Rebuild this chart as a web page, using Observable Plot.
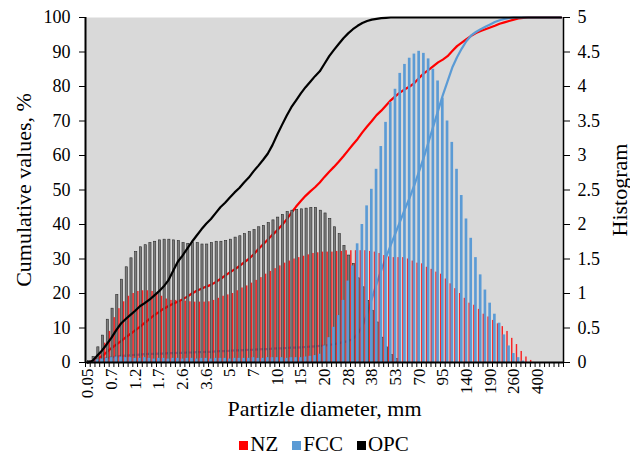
<!DOCTYPE html>
<html><head><meta charset="utf-8">
<script src="https://cdn.jsdelivr.net/npm/d3@7"></script>
<script src="https://cdn.jsdelivr.net/npm/@observablehq/plot@0.6"></script>
<style>
body{margin:0;background:#fff;font-family:"Liberation Serif","Times New Roman",serif;}
#legend{display:flex;justify-content:center;align-items:center;height:28px;font-size:21px;color:#000;padding-left:18px;line-height:28px;}
#legend .item{display:flex;align-items:center;margin:0 7px;}
#legend .sw{display:inline-block;width:9px;height:9px;margin-right:2px;margin-top:3px;}
</style></head><body>
<div id="chart"></div>
<div id="legend"></div>
<script>
// x-axis category labels (every 5th size class)
const tickLabels = ["0.05","0.7","1.2","1.7","2.6","3.6","5","7","10","15","20","28","38","53","70","95","140","190","260","400"];
const tickIndex = [0,5,10,15,20,25,30,35,40,45,50,55,60,65,70,75,80,85,90,95];

// histogram values (right axis, 0–5), one per size class
const nzHist = [0,0.02,0.06,0.14,0.28,0.45,0.65,0.78,0.88,0.96,
  1.0,1.03,1.04,1.04,1.03,1.0,0.96,0.92,0.9,0.9,
  0.9,0.89,0.88,0.875,0.875,0.875,0.88,0.9,0.93,0.96,
  0.98,1.0,1.04,1.08,1.11,1.15,1.19,1.23,1.28,1.32,
  1.36,1.4,1.44,1.47,1.5,1.52,1.54,1.56,1.58,1.59,
  1.6,1.6,1.6,1.61,1.61,1.62,1.62,1.62,1.62,1.62,
  1.61,1.6,1.58,1.55,1.53,1.52,1.52,1.52,1.5,1.47,
  1.44,1.43,1.38,1.35,1.31,1.28,1.21,1.14,1.07,1.0,
  0.93,0.86,0.83,0.77,0.7,0.66,0.61,0.56,0.52,0.45,
  0.35,0.26,0.16,0.08,0.03,0,0,0,0,0,0];
const fccHist = [0,0.02,0.04,0.05,0.06,0.07,0.08,0.08,0.07,0.07,
  0.06,0.06,0.07,0.06,0.05,0.06,0.06,0.05,0.06,0.06,
  0.05,0.06,0.06,0.05,0.06,0.06,0.05,0.06,0.06,0.06,
  0.05,0.06,0.06,0.06,0.06,0.07,0.06,0.06,0.07,0.07,
  0.07,0.07,0.06,0.07,0.07,0.07,0.08,0.09,0.1,0.12,
  0.24,0.36,0.51,0.68,0.9,1.18,1.4,1.72,2.0,2.27,
  2.51,2.8,3.13,3.48,3.77,3.96,4.19,4.32,4.41,4.47,
  4.51,4.48,4.4,4.25,4.08,3.83,3.5,3.19,2.8,2.42,
  2.08,1.8,1.52,1.27,1.05,0.86,0.7,0.57,0.4,0.24,
  0.13,0.07,0.02,0,0,0,0,0,0,0,0];
const opcHist = [0.02,0.08,0.22,0.39,0.62,0.78,0.98,1.2,1.38,1.51,
  1.6,1.67,1.7,1.73,1.75,1.77,1.78,1.78,1.77,1.76,
  1.73,1.72,1.73,1.73,1.71,1.71,1.73,1.75,1.75,1.76,
  1.78,1.81,1.83,1.86,1.89,1.92,1.96,1.98,2.02,2.06,
  2.1,2.14,2.18,2.2,2.21,2.22,2.23,2.24,2.24,2.2,
  2.16,2.08,1.96,1.86,1.69,1.55,1.43,1.22,1.09,0.89,
  0.75,0.58,0.36,0.22,0.11,0.05,0,0,0,0,
  0,0,0,0,0,0,0,0,0,0,
  0,0,0,0,0,0,0,0,0,0,
  0,0,0,0,0,0,0,0,0,0,0];

// cumulative values (left axis, %)
const nzCum = [0,0.3,1,1.8,3,4.2,5.2,6.2,7.3,8.3,
  9.3,10.3,11.5,12.6,13.7,14.6,15.6,16.3,17,17.6,
  18.3,19.1,20,20.8,21.4,22,22.5,23.3,24.2,25.2,
  26.1,27,27.9,29,30,31.3,32.8,34.2,35.6,37,
  38.3,39.8,41.5,43.4,45.2,46.8,48.3,49.6,50.8,52.2,
  53.8,55.3,56.7,58.2,59.8,61.5,63.2,64.8,66.7,68.4,
  70,71.7,73,74.5,76,77.2,78.3,79.2,80,81,
  82.5,83.8,84.8,85.9,87,87.8,88.8,90.3,91.7,92.7,
  93.7,94.7,95.5,96.1,96.6,97.1,97.6,98.2,98.6,99,
  99.4,99.7,99.9,100,100,100,100,100,100,100,100];
const fccCum = [0,0.3,0.7,1,1.3,1.5,1.7,1.9,2,2.1,
  2.2,2.3,2.4,2.5,2.5,2.6,2.6,2.7,2.7,2.8,
  2.8,2.9,2.9,3,3,3.1,3.1,3.2,3.3,3.3,
  3.4,3.5,3.5,3.6,3.7,3.7,3.8,3.9,3.9,4,
  4.1,4.1,4.2,4.3,4.3,4.4,4.5,4.6,4.7,4.8,
  4.9,5.1,5.3,5.6,5.9,6.2,6.8,8.3,10.5,14,
  18.5,22.8,26.8,30.5,34,37.5,41,44.5,47.8,51.5,
  55.5,59.5,64,68.5,73,77.5,81.5,85.5,88.5,91,
  93.2,94.8,95.8,96.6,97.3,98,98.7,99.2,99.6,99.8,
  100,100,100,100,100,100,100,100,100,100,100];
const opcCum = [0,0.5,2,3.5,5.3,7.2,9.4,11.3,12.6,13.8,
  15,16.3,17.2,18.2,19.4,20.6,22,23.8,26.5,29.2,
  31,33,35,36.8,38.6,40.2,41.6,43.3,45,46.3,
  47.8,49.3,50.6,52.2,53.6,55.4,57,58.7,60.5,63,
  66,68.8,71.5,74,76,78,79.8,81.4,83,84.4,
  86.6,88.8,90.6,92.3,94,95.4,96.6,97.6,98.4,99,
  99.4,99.6,99.8,99.9,100,100,100,100,100,100,
  100,100,100,100,100,100,100,100,100,100,
  100,100,100,100,100,100,100,100,100,100,
  100,100,100,100,100,100,100,100,100,100,100];

const seriesNames = ["NZ","FCC","OPC"];
const colors = {NZ:"#ff0000", FCC:"#5b9bd5", OPC:"#000000"};
const HIST_TO_PCT = 100 / 5; // right axis 0–5 mapped onto left axis 0–100

const N = nzHist.length;
const rows = d3.range(N).map(i => ({i, NZ: nzHist[i], FCC: fccHist[i], OPC: opcHist[i],
  NZc: nzCum[i], FCCc: fccCum[i], OPCc: opcCum[i]}));

// bar layout within a size class (in category units)
const layout = {NZ:{off:-0.33,w:0.3}, FCC:{off:0,w:0.56}, OPC:{off:0.22,w:0.46}};
function bars(name, extra) {
  const {off, w} = layout[name];
  return Plot.rectY(rows, {
    x1: d => d.i + off - w/2, x2: d => d.i + off + w/2,
    y1: 0, y2: d => d[name] * HIST_TO_PCT,
    fill: name === "OPC" ? "#7d7d7d" : colors[name],
    ...extra
  });
}
const labelOf = Object.fromEntries(tickIndex.map((t, k) => [t, tickLabels[k]]));

const chart = Plot.plot({
  width: 630, height: 430,
  marginLeft: 85, marginRight: 67, marginTop: 17, marginBottom: 68,
  x: {domain: [-0.5, N - 0.5], axis: null},
  y: {domain: [0, 100], axis: null},
  style: {fontFamily: '"Liberation Serif","Times New Roman",serif', background: "#fff", color: "#000", overflow: "visible"},
  marks: [
    Plot.frame({fill: "#d9d9d9", stroke: null}),
    Plot.line(rows, {x: "i", y: "NZc", stroke: colors.NZ, strokeWidth: 2.2}),
    Plot.line(rows, {x: "i", y: "FCCc", stroke: colors.FCC, strokeWidth: 2.2}),
    bars("OPC", {stroke: "#2a2a2a", strokeWidth: 0.6}),
    bars("NZ", {fillOpacity: 0.85}),
    bars("FCC", {}),
    Plot.line(rows, {x: "i", y: "OPCc", stroke: colors.OPC, strokeWidth: 2.2}),
    Plot.ruleY([0], {stroke: "#000", strokeWidth: 2}),
    Plot.ruleX([-0.5], {y1: 0, y2: 100, stroke: "#000", strokeWidth: 2}),
    Plot.ruleX([N - 0.5], {y1: 0, y2: 100, stroke: "#000", strokeWidth: 1.5}),
    Plot.axisY(d3.range(0, 101, 10), {anchor: "left", tickSize: 6, tickPadding: 9, fontSize: 18, label: null}),
    Plot.axisY(d3.range(0, 101, 10), {anchor: "right", tickSize: 6, tickPadding: 8, fontSize: 18, label: null,
      tickFormat: d => String(d / HIST_TO_PCT)}),
    Plot.axisX(d3.range(N + 1).map(i => i - 0.5), {anchor: "bottom", tickSize: 5, tickFormat: () => "", label: null}),
    Plot.axisX(tickIndex, {anchor: "bottom", tickSize: 0, tickPadding: 6, tickRotate: -90, fontSize: 17,
      textAnchor: "end", label: null, tickFormat: t => labelOf[t]}),
    Plot.text(["Cumulative values, %"], {frameAnchor: "left", dx: -62, rotate: -90, fontSize: 22, textAnchor: "middle"}),
    Plot.text(["Histogram"], {frameAnchor: "right", dx: 56, rotate: -90, fontSize: 22, textAnchor: "middle"}),
    Plot.text(["Partizle diameter, mm"], {frameAnchor: "bottom", dy: 53, fontSize: 22})
  ]
});
document.getElementById("chart").appendChild(chart);

const legend = document.getElementById("legend");
for (const name of seriesNames) {
  const item = document.createElement("span");
  item.className = "item";
  const sw = document.createElement("span");
  sw.className = "sw";
  sw.style.background = colors[name];
  item.appendChild(sw);
  item.appendChild(document.createTextNode(name));
  legend.appendChild(item);
}
</script>
</body></html>
